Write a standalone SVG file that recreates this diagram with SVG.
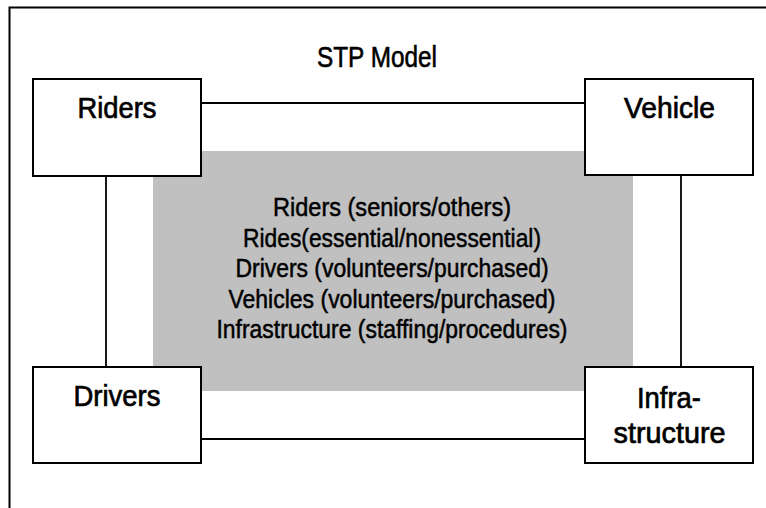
<svg xmlns="http://www.w3.org/2000/svg" width="766" height="508" viewBox="0 0 766 508">
<style>
.frame{fill:none;stroke:#000;stroke-width:2}
.box{fill:#fff;stroke:#000;stroke-width:2}
.conn{stroke:#000;stroke-width:1.8;fill:none}
text{font-family:"Liberation Sans",Arial,sans-serif;fill:#000;stroke:#000;text-anchor:middle}
.lbl{font-size:30px;stroke-width:0.7}
.title{font-size:29px;stroke-width:0.6}
.ctr{font-size:25px;stroke-width:0.5}
</style>
<rect width="766" height="508" fill="#fff"/>
<path class="frame" d="M9.5,508 V7.5 H766"/>
<text class="title" x="377" y="67" textLength="120" lengthAdjust="spacingAndGlyphs">STP Model</text>
<g id="center">
<rect x="153" y="151" width="480" height="240" fill="#c0c0c0"/>
<text class="ctr" x="392" y="216" textLength="238" lengthAdjust="spacingAndGlyphs">Riders (seniors/others)</text>
<text class="ctr" x="392" y="246.6" textLength="298" lengthAdjust="spacingAndGlyphs">Rides(essential/nonessential)</text>
<text class="ctr" x="392" y="277.2" textLength="313" lengthAdjust="spacingAndGlyphs">Drivers (volunteers/purchased)</text>
<text class="ctr" x="392" y="307.8" textLength="327" lengthAdjust="spacingAndGlyphs">Vehicles (volunteers/purchased)</text>
<text class="ctr" x="392" y="338.4" textLength="351" lengthAdjust="spacingAndGlyphs">Infrastructure (staffing/procedures)</text>
</g>
<g id="connectors">
<line class="conn" x1="201" y1="103" x2="585" y2="103"/>
<line class="conn" x1="201" y1="439" x2="585" y2="439"/>
<line class="conn" x1="106" y1="176" x2="106" y2="367"/>
<line class="conn" x1="681" y1="175" x2="681" y2="367"/>
</g>
<g id="riders">
<rect class="box" x="33" y="79" width="168" height="97"/>
<text class="lbl" x="117" y="118" textLength="79" lengthAdjust="spacingAndGlyphs">Riders</text>
</g>
<g id="vehicle">
<rect class="box" x="585" y="79" width="168" height="96"/>
<text class="lbl" x="669.5" y="118" textLength="91" lengthAdjust="spacingAndGlyphs">Vehicle</text>
</g>
<g id="drivers">
<rect class="box" x="33" y="367" width="168" height="96"/>
<text class="lbl" x="117" y="406" textLength="87" lengthAdjust="spacingAndGlyphs">Drivers</text>
</g>
<g id="infrastructure">
<rect class="box" x="585" y="367" width="168" height="96"/>
<text class="lbl" x="669" y="408" textLength="64" lengthAdjust="spacingAndGlyphs">Infra-</text>
<text class="lbl" x="669.5" y="443" textLength="112" lengthAdjust="spacingAndGlyphs">structure</text>
</g>
</svg>
